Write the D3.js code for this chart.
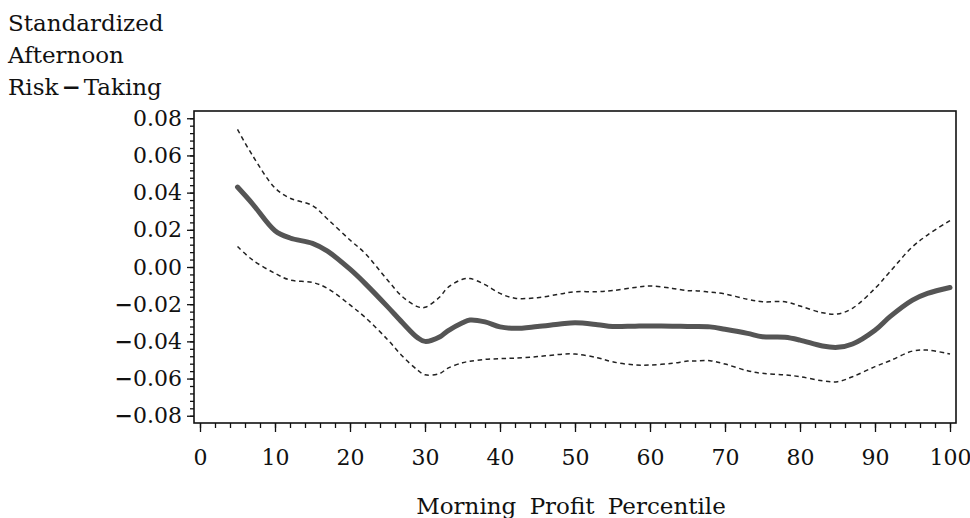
<!DOCTYPE html>
<html>
<head>
<meta charset="utf-8">
<script src="https://cdn.jsdelivr.net/npm/d3@7"></script>
<style>
  body { margin: 0; background: #fff; }
  text { font-family: "DejaVu Serif", serif; fill: #111; }
</style>
</head>
<body>
<div id="chart"></div>
<script>
// percentile positions where the curves were read
const pct = [5, 7, 10, 12, 15, 17, 20, 22, 25, 27, 29, 30, 32, 33, 35, 36, 38, 40, 42, 45, 48, 50, 53, 55, 58, 60, 63, 65, 66, 68, 70, 73, 75, 78, 80, 83, 85, 87, 90, 92, 95, 97, 100];

const estimate = [0.043, 0.034, 0.0195, 0.0156, 0.0127, 0.0085, -0.0012, -0.0088, -0.0213, -0.030, -0.038, -0.040, -0.0375, -0.0345, -0.030, -0.0285, -0.0295, -0.0322, -0.033, -0.032, -0.0307, -0.030, -0.031, -0.032, -0.0318, -0.0317, -0.0318, -0.032, -0.032, -0.0322, -0.0335, -0.0357, -0.0375, -0.0378, -0.0393, -0.0425, -0.0432, -0.0414, -0.034, -0.0267, -0.0178, -0.0142, -0.011];

const upper = [0.074, 0.060, 0.0425, 0.0370, 0.0330, 0.0258, 0.0145, 0.0074, -0.007, -0.016, -0.0213, -0.0217, -0.016, -0.0112, -0.0066, -0.0062, -0.0095, -0.0142, -0.0168, -0.0165, -0.0145, -0.0133, -0.0133, -0.0127, -0.011, -0.0102, -0.0115, -0.0127, -0.0127, -0.0135, -0.0145, -0.0174, -0.0187, -0.0187, -0.021, -0.0246, -0.0253, -0.0222, -0.0115, -0.0025, 0.0109, 0.0172, 0.025];

const lower = [0.011, 0.0038, -0.0034, -0.007, -0.0083, -0.0115, -0.0204, -0.027, -0.039, -0.048, -0.0554, -0.058, -0.0572, -0.0545, -0.0515, -0.0507, -0.0497, -0.0493, -0.049, -0.0482, -0.047, -0.0468, -0.0488, -0.051, -0.0527, -0.0527, -0.0518, -0.0506, -0.0506, -0.0504, -0.0522, -0.0558, -0.0572, -0.058, -0.059, -0.0612, -0.0617, -0.059, -0.0536, -0.0504, -0.0452, -0.0447, -0.0468];

const xTicks = [0, 10, 20, 30, 40, 50, 60, 70, 80, 90, 100];
const yTicks = [0.08, 0.06, 0.04, 0.02, 0, -0.02, -0.04, -0.06, -0.08];
const titleLines = [["Standardized"], ["Afternoon"], ["Risk", "\u2212", "Taking"]];

const W = 970, H = 518;
const box = { left: 194, right: 956, top: 111, bottom: 423 };

const svg = d3.select("#chart").append("svg")
    .attr("width", W)
    .attr("height", H);

const x = d3.scaleLinear().domain([-0.8, 100.8]).range([box.left, box.right]);
const y = d3.scaleLinear().domain([-0.0839, 0.0839]).range([box.bottom, box.top]);

// y axis: majors every 0.02, minors every 0.004
const yMinor = d3.range(-80, 81, 4).map(d => d / 1000);
svg.append("g")
    .attr("transform", `translate(${box.left},0)`)
    .call(d3.axisLeft(y).tickValues(yMinor).tickSize(4).tickFormat(""))
    .call(g => g.select(".domain").remove())
    .call(g => g.selectAll("line").attr("stroke", "#111").attr("stroke-width", 1.3));

const yAxis = svg.append("g")
    .attr("transform", `translate(${box.left},0)`)
    .call(d3.axisLeft(y).tickValues(yTicks).tickSize(7).tickPadding(5).tickFormat(""))
    .call(g => g.select(".domain").remove())
    .call(g => g.selectAll("line").attr("stroke", "#111").attr("stroke-width", 1.3));

// tick labels with a heavy minus sign like the original
yAxis.selectAll(".tick text")
    .attr("font-family", "DejaVu Serif")
    .attr("font-size", 22)
    .attr("fill", "#111")
    .each(function(v) {
        const t = d3.select(this);
        if (v < -1e-9) {
            t.append("tspan").attr("font-weight", "bold").text("\u2212");
        }
        t.append("tspan").text(Math.abs(v).toFixed(2));
    });

// x axis: majors every 10, minors every 2
svg.append("g")
    .attr("transform", `translate(0,${box.bottom})`)
    .call(d3.axisBottom(x).tickValues(d3.range(0, 101, 2)).tickSize(5).tickFormat(""))
    .call(g => g.select(".domain").remove())
    .call(g => g.selectAll("line").attr("stroke", "#111").attr("stroke-width", 1.3));

svg.append("g")
    .attr("transform", `translate(0,${box.bottom})`)
    .call(d3.axisBottom(x).tickValues(xTicks).tickSize(9).tickPadding(17).tickFormat(d3.format("d")))
    .call(g => g.select(".domain").remove())
    .call(g => g.selectAll("line").attr("stroke", "#111").attr("stroke-width", 1.3))
    .call(g => g.selectAll("text")
        .attr("font-family", "DejaVu Serif")
        .attr("font-size", 22)
        .attr("fill", "#111"));

// frame
svg.append("rect")
    .attr("x", box.left)
    .attr("y", box.top)
    .attr("width", box.right - box.left)
    .attr("height", box.bottom - box.top)
    .attr("fill", "none")
    .attr("stroke", "#111")
    .attr("stroke-width", 1.6);

const line = vals => d3.line()
    .x((d, i) => x(pct[i]))
    .y(d => y(d))
    .curve(d3.curveCatmullRom.alpha(0.5))(vals);

[upper, lower].forEach(band => {
    svg.append("path")
        .attr("d", line(band))
        .attr("fill", "none")
        .attr("stroke", "#222")
        .attr("stroke-width", 1.5)
        .attr("stroke-dasharray", "4.5,3.5");
});

svg.append("path")
    .attr("d", line(estimate))
    .attr("fill", "none")
    .attr("stroke", "#555")
    .attr("stroke-width", 5)
    .attr("stroke-linecap", "round")
    .attr("stroke-linejoin", "round");

// vertical axis title, three lines
const title = svg.append("g").selectAll("text")
    .data(titleLines)
    .join("text")
    .attr("x", 8)
    .attr("y", (d, i) => 31 + i * 32)
    .attr("font-size", 23);

title.each(function(parts) {
    const t = d3.select(this);
    parts.forEach(p => {
        const s = t.append("tspan").text(p);
        if (p === "\u2212") s.attr("font-weight", "bold").attr("dx", 3);
        else if (t.selectAll("tspan").size() > 1) s.attr("dx", 3);
    });
});

svg.append("text")
    .attr("x", x(50) - 4)
    .attr("y", 514)
    .attr("text-anchor", "middle")
    .attr("font-size", 23)
    .attr("word-spacing", 6)
    .text("Morning Profit Percentile");
</script>
</body>
</html>
